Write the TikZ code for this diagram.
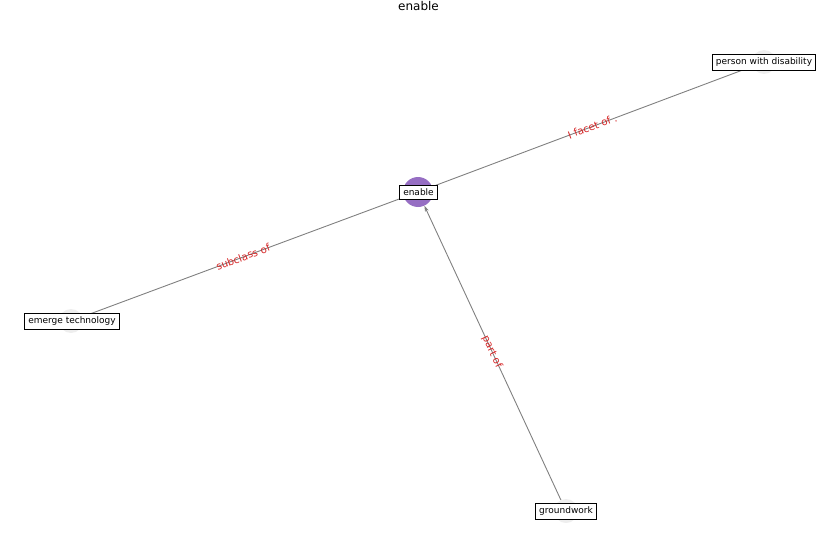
\documentclass[tikz,border=0pt]{standalone}
\usepackage{fontspec}
\setmainfont{DejaVu Sans}
\usetikzlibrary{arrows.meta}
\definecolor{nodepurple}{RGB}{150,110,195}
\definecolor{faint}{RGB}{238,238,238}
\definecolor{edgegray}{RGB}{128,128,128}
\definecolor{lblred}{RGB}{214,39,40}
\begin{document}
\begin{tikzpicture}[x=1pt,y=-1pt,
  dot/.style={circle,minimum size=24pt,inner sep=0pt,fill=faint},
  hub/.style={circle,minimum size=30pt,inner sep=0pt,fill=nodepurple},
  lbox/.style={draw=black,fill=white,font=\fontsize{9}{11}\selectfont,inner sep=3.5pt,line width=0.7pt},
  edge/.style={draw=edgegray,line width=0.9pt},
  elbl/.style={text=lblred,font=\fontsize{10.2}{12}\selectfont,inner sep=0pt}]
\useasboundingbox (0,0) rectangle (837,559);
\node[font=\fontsize{12}{14}\selectfont] (title) at (418.5,6) {enable};
% circles
\node[hub] (c0) at (418,192) {};
\node[dot] (c1) at (764,62) {};
\node[dot] (c2) at (71,321) {};
\node[dot] (c3) at (566,511) {};
% edges
\draw[edge] (c0) -- (c1) node[midway,sloped,elbl] {I facet of .};
\draw[edge] (c2) -- (c0) node[midway,sloped,elbl] {subclass of};
\draw[edge,-{Stealth[length=6pt,width=4pt]}] (c3) -- (c0);
\node[elbl,rotate=-65] (l3) at (492,352) {part of};
% labels
\node[lbox] (n0) at (418.5,192.5) {enable};
\node[lbox] (n1) at (764,62.5) {person with disability};
\node[lbox] (n2) at (72,321.5) {emerge technology};
\node[lbox] (n3) at (566,511.5) {groundwork};
\end{tikzpicture}
\end{document}
